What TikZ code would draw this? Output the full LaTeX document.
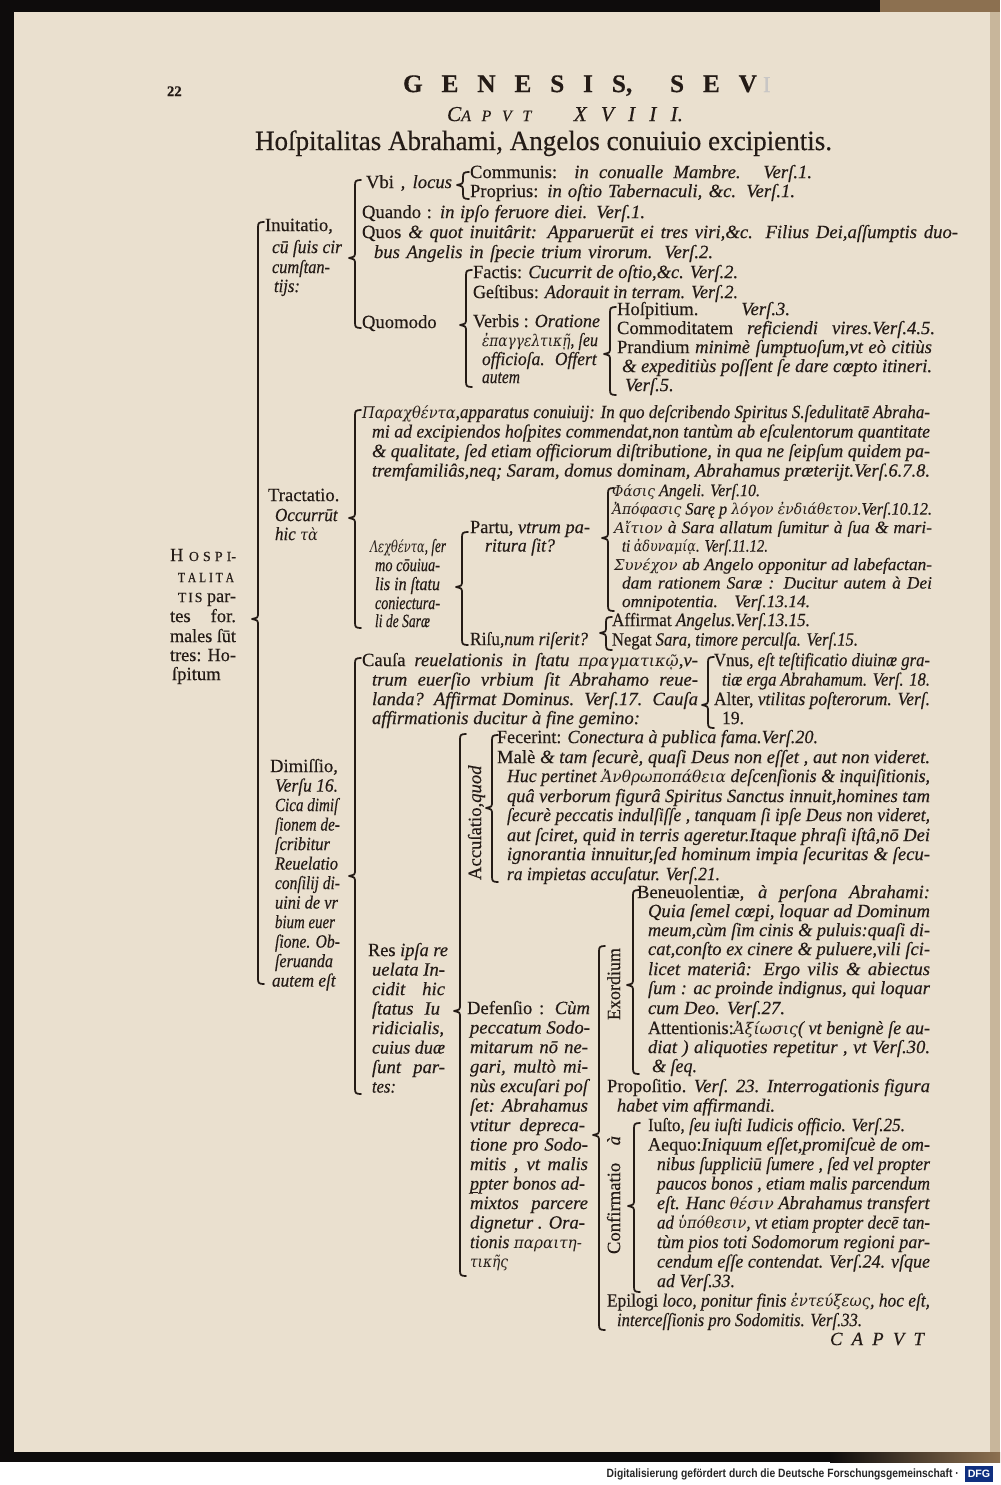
\documentclass[tikz,border=0pt]{standalone}
\usepackage{fontspec}
\setmainfont{Liberation Serif}[FakeBold=0.35]
\newfontfamily\grkfont{DejaVu Serif}[Scale=0.86]
\newfontfamily\footfont{Liberation Sans}
\definecolor{paper}{RGB}{234,224,207}
\definecolor{ink}{RGB}{36,27,22}
\definecolor{frame}{RGB}{14,12,12}
\definecolor{edge}{RGB}{200,182,155}
\definecolor{bookbrown}{RGB}{140,112,80}
\definecolor{dfgblue}{RGB}{16,48,128}
\newlength\pxu \setlength\pxu{0.75pt}
\newlength\natw \newlength\tgtw
\newcommand\fitto[2]{\setlength\tgtw{#1\pxu}\settowidth\natw{#2}%
  \ifdim\natw>\tgtw\relax\pgfmathsetmacro\sxf{\tgtw/\natw}\scalebox{\sxf}[1]{#2}%
  \else\makebox[\tgtw][s]{#2}\fi}
\newcommand\grk{\grkfont\itshape}
\newcommand\pstk{\makebox[0pt][l]{\raisebox{-0.18em}{\rule{0.45em}{0.06em}}}p}
\newcommand\bodyfont{\fontsize{14}{16}\selectfont}
\newcommand\smallfont{\fontsize{13}{14}\selectfont}
\newcounter{tl}
\newcommand\TL[5][]{\stepcounter{tl}\node[txt,#1] (t\arabic{tl}) at (#2,#3) {\fitto{#4}{#5}};}
% brace: name, x, top, tip, bottom
\newcommand\brk[5]{%
  \coordinate (#1) at ({#2-6},#4);
  \draw[brace] ({#2+6},#3) .. controls ({#2+1},#3) and (#2,{#3+1}) .. (#2,{#3+5})
    -- (#2,{#4-4}) .. controls (#2,{#4-1.5}) .. (#1)
    .. controls (#2,{#4+1.5}) .. (#2,{#4+4})
    -- (#2,{#5-5}) .. controls (#2,{#5-1}) and ({#2+1},#5) .. ({#2+6},#5);}
\tikzset{
  txt/.style={anchor=mid west, inner sep=0pt, outer sep=0pt, text=ink, font=\bodyfont},
  sm/.style={font=\smallfont},
  rot/.style={rotate=90, anchor=mid},
  brace/.style={draw=ink, line width=1.3pt, line cap=round, line join=round}
}
\begin{document}
\begin{tikzpicture}[x=0.75pt,y=-0.75pt]
\useasboundingbox (0,0) rectangle (1000,1485);
% page and scan frame
\fill[white] (0,0) rectangle (1000,1485);
\fill[frame] (0,0) rectangle (1000,1462);
\fill[bookbrown] (880,0) rectangle (1000,12);
\shade[left color=frame, right color=bookbrown] (830,1452) rectangle (1000,1462);
\fill[paper] (14,12) rectangle (990,1452);
\fill[edge] (990,12) rectangle (1000,1452);
% footer
\node[anchor=mid east, inner sep=0pt, text=black!85, font=\footfont\bfseries\fontsize{9}{10}\selectfont] (foot) at (959,1474) {\fitto{352}{Digitalisierung gefördert durch die Deutsche Forschungsgemeinschaft ·}};
\node[fill=dfgblue, text=white, inner sep=1pt, minimum width=21pt, minimum height=12pt, font=\footfont\bfseries\fontsize{8}{9}\selectfont] (dfg) at (979,1474) {DFG};
% header
\TL[font=\fontsize{11}{13}\selectfont\bfseries]{167}{93}{25}{22}
\TL[font=\fontsize{19}{21}\selectfont\bfseries]{403}{89}{354}{G E N E S I S, \ S E V}
\node[txt, text=ink!25, font=\fontsize{17}{19}\selectfont] (faint) at (763,89) {I};
\TL[font=\fontsize{16}{18}\selectfont\itshape]{447}{118}{236}{C{\fontsize{12}{13}\selectfont A P V T} \ \ X V I I I.}
\TL[font=\fontsize{21}{24}\selectfont]{255}{147}{577}{Hoſpitalitas Abrahami, Angelos conuiuio excipientis.}
% ---- Inuitatio
\TL{265}{228}{71}{Inuitatio,}
\TL{272}{250}{70}{\textit{cū ſuis cir}}
\TL{272}{270}{58}{\textit{cumſtan-}}
\TL{274}{289}{26}{\textit{tijs:}}
\TL{366}{185}{86}{Vbi , \textit{locus}}
\TL{470}{175}{342}{Communis: \textit{in conualle Mambre. Verſ.1.}}
\TL{470}{194}{325}{Proprius: \textit{in oſtio Tabernaculi, \&c. Verſ.1.}}
\TL{362}{215}{283}{Quando : \textit{in ipſo feruore diei. Verſ.1.}}
\TL{362}{235}{596}{Quos \textit{\& quot inuitârit: Apparuerūt ei tres viri,\&c. Filius Dei,aſſumptis duo-}}
\TL{374}{255}{339}{\textit{bus Angelis in ſpecie trium virorum. Verſ.2.}}
\TL{473}{275}{265}{Factis: \textit{Cucurrit de oſtio,\&c. Verſ.2.}}
\TL{473}{295}{265}{Geſtibus: \textit{Adorauit in terram. Verſ.2.}}
\TL{362}{325}{93}{Quomodo}
\TL{473}{324}{127}{Verbis : \textit{Oratione}}
\TL{482}{343}{116}{{\grk ἐπαγγελτικῇ}, \textit{ſeu}}
\TL{482}{362}{115}{\textit{officioſa. \ Offert}}
\TL{482}{380}{38}{\textit{autem}}
\TL{617}{312}{173}{Hoſpitium. \textit{Verſ.3.}}
\TL{617}{331}{318}{Commoditatem \textit{reficiendi vires.Verſ.4.5.}}
\TL{617}{350}{315}{Prandium \textit{minimè ſumptuoſum,vt eò citiùs}}
\TL{622}{369}{310}{\textit{\& expeditiùs poſſent ſe dare cœpto itineri.}}
\TL{625}{388}{55}{\textit{Verſ.5.}}
% ---- Tractatio
\TL{268}{498}{77}{Tractatio.}
\TL{275}{518}{63}{\textit{Occurrūt}}
\TL{275}{537}{43}{\textit{hic} {\grk τὰ}}
\TL{362}{415}{568}{{\grk Παραχθέντα},\textit{apparatus conuiuij: In quo deſcribendo Spiritus S.ſedulitatē Abraha-}}
\TL{372}{434.5}{558}{\textit{mi ad excipiendos hoſpites commendat,non tantùm ab eſculentorum quantitate}}
\TL{372}{454}{558}{\textit{\& qualitate, ſed etiam officiorum diſtributione, in qua ne ſeipſum quidem pa-}}
\TL{372}{473.5}{558}{\textit{tremfamiliâs,neq; Saram, domus dominam, Abrahamus præterijt.Verſ.6.7.8.}}
\TL{370}{549}{76}{{\grk Λεχθέντα},\textit{ ſer}}
\TL{375}{568}{65}{\textit{mo cōuiua-}}
\TL{375}{587}{65}{\textit{lis in ſtatu}}
\TL{375}{606}{65}{\textit{coniectura-}}
\TL{375}{624}{55}{\textit{li de Saræ}}
\TL{470}{530}{120}{Partu, \textit{vtrum pa-}}
\TL{485}{548.5}{70}{\textit{ritura ſit?}}
\TL{470}{642}{118}{Riſu,\textit{num riſerit?}}
\TL[sm]{612}{493}{148}{{\grk Φάσις} \textit{Angeli. Verſ.10.}}
\TL[sm]{612}{511.5}{320}{{\grk Ἀπόφασις} \textit{Sarę p} {\grk λόγον ἐνδιάθετον}\textit{.Verſ.10.12.}}
\TL[sm]{614}{530}{318}{{\grk Αἴτιον} \textit{à Sara allatum ſumitur à ſua \& mari-}}
\TL[sm]{622}{548.5}{146}{\textit{ti} {\grk ἀδυναμίᾳ}\textit{. Verſ.11.12.}}
\TL[sm]{614}{567}{318}{{\grk Συνέχον} \textit{ab Angelo opponitur ad labefactan-}}
\TL[sm]{622}{585.5}{310}{\textit{dam rationem Saræ : Ducitur autem à Dei}}
\TL[sm]{622}{604}{188}{\textit{omnipotentia. Verſ.13.14.}}
\TL{612}{623}{198}{Affirmat \textit{Angelus.Verſ.13.15.}}
\TL{612}{642.5}{246}{Negat \textit{Sara, timore perculſa. Verſ.15.}}
% ---- root
\TL{170}{558}{66}{H {\fontsize{10.5}{12}\selectfont O S P I-}}
\TL{178}{579}{56}{{\fontsize{10.5}{12}\selectfont T A L I T A}}
\TL{178}{599}{58}{{\fontsize{10.5}{12}\selectfont T\kern1.5pt I\kern1.5pt S} par-}
\TL{170}{619}{66}{tes \ for.}
\TL{170}{639}{66}{males ſūt}
\TL{170}{658}{66}{tres: Ho-}
\TL{172}{677}{57}{ſpitum}
% ---- Dimissio
\TL{270}{769}{75}{Dimiſſio,}
\TL{275}{788.5}{63}{\textit{Verſu 16.}}
\TL{275}{808}{65}{\textit{Cica dimiſ}}
\TL{275}{827.5}{65}{\textit{ſionem de-}}
\TL{275}{847}{55}{\textit{ſcribitur}}
\TL{275}{866.5}{63}{\textit{Reuelatio}}
\TL{275}{886}{65}{\textit{conſilij di-}}
\TL{275}{905.5}{63}{\textit{uini de vr}}
\TL{275}{925}{60}{\textit{bium euer}}
\TL{275}{944.5}{65}{\textit{ſione. Ob-}}
\TL{275}{964}{58}{\textit{ſeruanda}}
\TL{272}{983.5}{64}{\textit{autem eſt}}
\TL{362}{663}{336}{Cauſa \textit{reuelationis in ſtatu} {\grk πραγματικῷ},\textit{v-}}
\TL{372}{682.5}{326}{\textit{trum euerſio vrbium ſit Abrahamo reue-}}
\TL{372}{702}{326}{\textit{landa? Affirmat Dominus. Verſ.17. Cauſa}}
\TL{372}{721}{268}{\textit{affirmationis ducitur à fine gemino:}}
\TL{714}{663}{216}{Vnus, \textit{eſt teſtificatio diuinæ gra-}}
\TL{722}{682.5}{208}{\textit{tiæ erga Abrahamum. Verſ. 18.}}
\TL{714}{702}{216}{Alter, \textit{vtilitas poſterorum. Verſ.}}
\TL{722}{721}{22}{19.}
% Accusatio
\TL[rot]{478}{810}{140}{Accuſatio,\textit{quod}}
\TL{497}{740}{321}{Fecerint: \textit{Conectura à publica fama.Verſ.20.}}
\TL{497}{760}{433}{Malè \textit{\& tam ſecurè, quaſi Deus non eſſet , aut non videret.}}
\TL{507}{779}{423}{\textit{Huc pertinet} {\grk Ἀνθρωποπάθεια} \textit{deſcenſionis \& inquiſitionis,}}
\TL{507}{799}{423}{\textit{quâ verborum figurâ Spiritus Sanctus innuit,homines tam}}
\TL{507}{818}{423}{\textit{ſecurè peccatis indulſiſſe , tanquam ſi ipſe Deus non videret,}}
\TL{507}{838}{423}{\textit{aut ſciret, quid in terris ageretur.Itaque phraſi iſtâ,nō Dei}}
\TL{507}{857}{423}{\textit{ignorantia innuitur,ſed hominum impia ſecuritas \& ſecu-}}
\TL{507}{877}{213}{\textit{ra impietas accuſatur. Verſ.21.}}
% Res ipsa
\TL{368}{953}{80}{Res \textit{ipſa re}}
\TL{372}{972.5}{73}{\textit{uelata In-}}
\TL{372}{992}{73}{\textit{cidit \ hic}}
\TL{372}{1011.5}{68}{\textit{ſtatus Iu}}
\TL{372}{1031}{73}{\textit{ridicialis,}}
\TL{372}{1050.5}{73}{\textit{cuius duæ}}
\TL{372}{1070}{73}{\textit{ſunt par-}}
\TL{372}{1089.5}{24}{\textit{tes:}}
% Defensio
\TL{467}{1011}{123}{Defenſio : \textit{Cùm}}
\TL{470}{1030.5}{120}{\textit{peccatum Sodo-}}
\TL{470}{1050}{118}{\textit{mitarum nō ne-}}
\TL{470}{1069.5}{118}{\textit{gari, multò mi-}}
\TL{470}{1089}{120}{\textit{nùs excuſari poſ}}
\TL{470}{1108.5}{118}{\textit{ſet: Abrahamus}}
\TL{470}{1128}{115}{\textit{vtitur depreca-}}
\TL{470}{1147.5}{118}{\textit{tione pro Sodo-}}
\TL{470}{1167}{118}{\textit{mitis , vt malis}}
\TL{470}{1186.5}{115}{\textit{\pstk pter bonos ad-}}
\TL{470}{1206}{118}{\textit{mixtos parcere}}
\TL{470}{1225.5}{115}{\textit{dignetur . Ora-}}
\TL{470}{1245}{112}{\textit{tionis} {\grk παραιτη-}}
\TL{470}{1264.5}{38}{{\grk τικῆς}}
% Exordium
\TL[rot]{617}{984}{72}{Exordium}
\TL{637}{895}{293}{Beneuolentiæ, \textit{à perſona Abrahami:}}
\TL{648}{914}{282}{\textit{Quia ſemel cœpi, loquar ad Dominum}}
\TL{648}{933}{282}{\textit{meum,cùm ſim cinis \& puluis:quaſi di-}}
\TL{648}{952}{282}{\textit{cat,conſto ex cinere \& puluere,vili ſci-}}
\TL{648}{972}{282}{\textit{licet materiâ: Ergo vilis \& abiectus}}
\TL{648}{991}{282}{\textit{ſum : ac proinde indignus, qui loquar}}
\TL{648}{1011}{137}{\textit{cum Deo. Verſ.27.}}
\TL{648}{1031}{282}{Attentionis:{\grk Ἀξίωσις}\textit{( vt benignè ſe au-}}
\TL{648}{1050}{282}{\textit{diat ) aliquoties repetitur , vt Verſ.30.}}
\TL{652}{1069}{45}{\textit{\& ſeq.}}
\TL{607}{1089}{323}{Propoſitio. \textit{Verſ. 23. Interrogationis figura}}
\TL{617}{1108.5}{158}{\textit{habet vim affirmandi.}}
% Confirmatio
\TL[rot]{617}{1195}{118}{Confirmatio \textit{à}}
\TL{648}{1128}{257}{Iuſto, \textit{ſeu iuſti Iudicis officio. Verſ.25.}}
\TL{648}{1147.5}{282}{Aequo:\textit{Iniquum eſſet,promiſcuè de om-}}
\TL{657}{1167}{273}{\textit{nibus ſuppliciū ſumere , ſed vel propter}}
\TL{657}{1186.5}{273}{\textit{paucos bonos , etiam malis parcendum}}
\TL{657}{1206}{273}{\textit{eſt. Hanc} {\grk θέσιν} \textit{Abrahamus transfert}}
\TL{657}{1225.5}{273}{\textit{ad} {\grk ὑπόθεσιν}\textit{, vt etiam propter decē tan-}}
\TL{657}{1245}{273}{\textit{tùm pios toti Sodomorum regioni par-}}
\TL{657}{1264.5}{273}{\textit{cendum eſſe contendat. Verſ.24. vſque}}
\TL{657}{1284}{78}{\textit{ad Verſ.33.}}
\TL{607}{1303.5}{323}{Epilogi \textit{loco, ponitur finis} {\grk ἐντεύξεως}\textit{, hoc eſt,}}
\TL{617}{1323}{245}{\textit{interceſſionis pro Sodomitis. Verſ.33.}}
\TL{830}{1342}{95}{\textit{C A P V T}}
% ---- braces
\brk{root}{258}{222}{619}{984}
\brk{inuit}{355}{180}{258}{328}
\brk{vbi}{463}{172}{185}{199}
\brk{quomodo}{466}{270}{325}{387}
\brk{verbis}{610}{307}{354}{395}
\brk{tract}{355}{410}{518}{628}
\brk{lechth}{462}{532}{587}{645}
\brk{partu}{608}{488}{538}{611}
\brk{risu}{606}{617}{633}{650}
\brk{dimiss}{355}{658}{876}{1094}
\brk{causa}{708}{657}{705}{728}
\brk{resipsa}{460}{734}{1011}{1276}
\brk{accus}{492}{735}{808}{882}
\brk{defens}{599}{946}{1135}{1330}
\brk{exord}{633}{890}{985}{1074}
\brk{confirm}{634}{1123}{1206}{1292}
\end{tikzpicture}
\end{document}
